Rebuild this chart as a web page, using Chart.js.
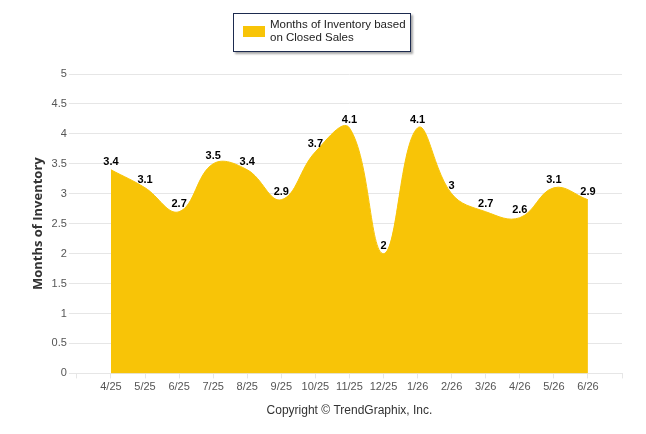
<!DOCTYPE html>
<html>
<head>
<meta charset="utf-8">
<script src="https://cdn.jsdelivr.net/npm/chart.js@4.4.1/dist/chart.umd.min.js"></script>
<style>
  html, body { margin: 0; padding: 0; background: #fff; }
  .wrap { position: relative; width: 646px; height: 434px; }
  canvas { position: absolute; left: 0; top: 0; }
  .legend {
    position: absolute; left: 233px; top: 13px; width: 176px; height: 37px;
    border: 1px solid #1d2b4f; background: #fff;
    box-shadow: 2px 2px 2px rgba(0, 0, 0, 0.35);
    font: 11.5px "Liberation Sans", Arial, sans-serif; color: #222;
  }
  .legend .swatch {
    position: absolute; left: 9px; top: 12px; width: 22px; height: 11px; background: #f8c407;
  }
  .legend .text { position: absolute; left: 36px; top: 4px; line-height: 13px; white-space: nowrap; }
</style>
</head>
<body>
<div class="wrap">
  <canvas id="chart" width="646" height="434"></canvas>
  <div class="legend">
    <div class="swatch"></div>
    <div class="text">Months of Inventory based<br>on Closed Sales</div>
  </div>
</div>
<script>
const months = ['4/25', '5/25', '6/25', '7/25', '8/25', '9/25', '10/25', '11/25',
  '12/25', '1/26', '2/26', '3/26', '4/26', '5/26', '6/26'];
const inventory = [3.4, 3.1, 2.7, 3.5, 3.4, 2.9, 3.7, 4.1, 2, 4.1, 3, 2.7, 2.6, 3.1, 2.9];
const yTicks = [0, 0.5, 1, 1.5, 2, 2.5, 3, 3.5, 4, 4.5, 5];

const FONT = '"Liberation Sans", Arial, sans-serif';

// bold value labels above each point
const valueLabels = {
  id: 'valueLabels',
  afterDatasetsDraw(chart) {
    const ctx = chart.ctx;
    const meta = chart.getDatasetMeta(0);
    ctx.save();
    ctx.font = 'bold 11px ' + FONT;
    ctx.fillStyle = '#000';
    ctx.textAlign = 'center';
    ctx.textBaseline = 'bottom';
    meta.data.forEach((pt, i) => {
      ctx.fillText(String(inventory[i]), pt.x, pt.y - 2);
    });
    ctx.restore();
  },
};

new Chart(document.getElementById('chart'), {
  type: 'line',
  data: {
    datasets: [{
      label: 'Months of Inventory based on Closed Sales',
      data: inventory.map((v, i) => ({ x: i, y: v })),
      borderColor: '#f8c407',
      backgroundColor: '#f8c407',
      borderWidth: 1,
      fill: 'origin',
      tension: 0.4,
      pointRadius: 0,
    }],
  },
  options: {
    responsive: false,
    animation: false,
    parsing: false,
    layout: { padding: { top: 74, right: 24, bottom: 16, left: 30 } },
    plugins: {
      legend: { display: false },
      tooltip: { enabled: false },
    },
    scales: {
      x: {
        type: 'linear',
        min: -1,
        max: 15,
        afterBuildTicks(axis) {
          axis.ticks = [];
          for (let i = -1; i <= 15; i++) axis.ticks.push({ value: i });
        },
        ticks: {
          autoSkip: false,
          maxRotation: 0,
          padding: 2,
          color: '#555',
          font: { family: FONT, size: 11 },
          callback: (v) => months[v] ?? '',
        },
        grid: {
          drawOnChartArea: false,
          drawTicks: true,
          tickLength: 5,
          color: '#e6e6e6',
        },
        border: { color: '#e6e6e6' },
        title: {
          display: true,
          text: 'Copyright \u00a9 TrendGraphix, Inc.',
          color: '#333',
          font: { family: FONT, size: 12 },
          padding: { top: 8, bottom: 0 },
        },
      },
      y: {
        min: 0,
        max: 5,
        afterBuildTicks(axis) {
          axis.ticks = yTicks.map((v) => ({ value: v }));
        },
        ticks: {
          color: '#555',
          padding: 2,
          font: { family: FONT, size: 11 },
          callback: (v) => String(v),
        },
        grid: { color: '#e6e6e6', tickLength: 8 },
        border: { display: false },
        title: {
          display: true,
          text: 'Months of Inventory',
          color: '#333',
          font: { family: '"Open Sans", sans-serif', size: 13, weight: 'bold' },
          padding: { top: 0, bottom: 4 },
        },
      },
    },
  },
  plugins: [valueLabels],
});
</script>
</body>
</html>
